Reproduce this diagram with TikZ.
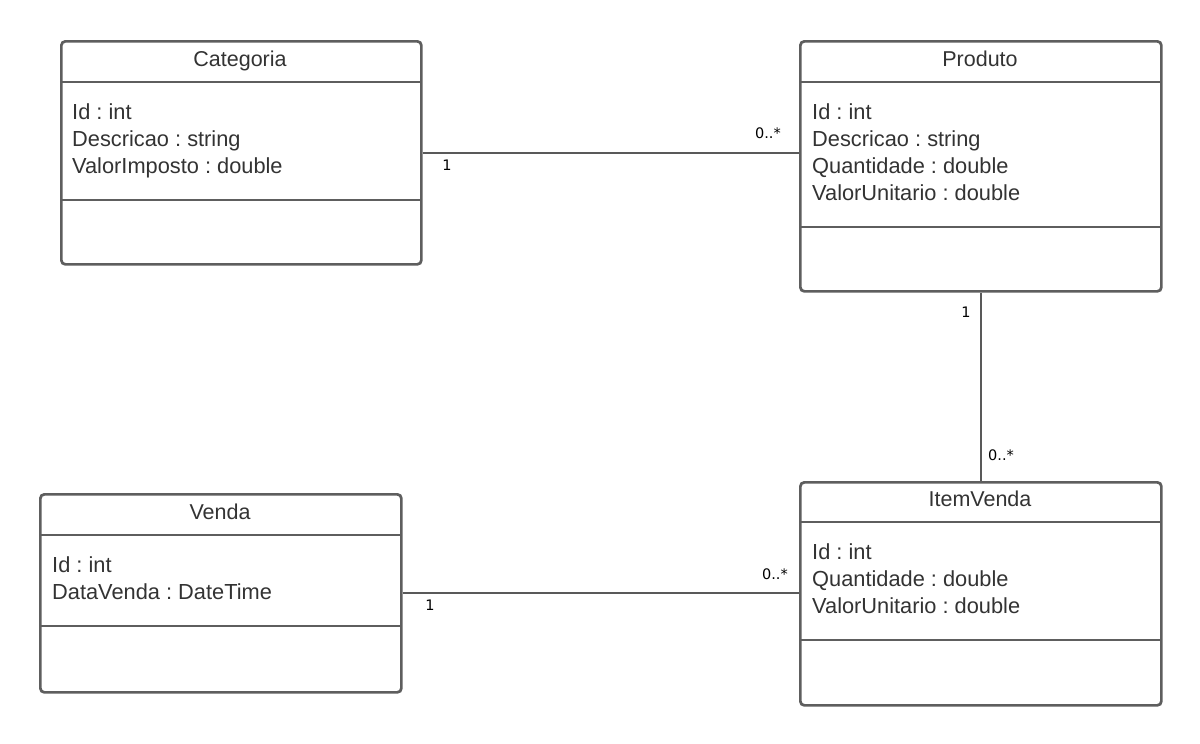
\documentclass[tikz,border=0pt]{standalone}
\usepackage{fontspec}
\setmainfont{Liberation Sans}
\newfontfamily\labfont{DejaVu Sans}
\definecolor{bordc}{HTML}{5E5E5E}
\definecolor{txtc}{HTML}{333333}
\definecolor{linec}{HTML}{595959}
\frenchspacing
\begin{document}
\begin{tikzpicture}[x=1pt,y=-1pt,
  umlbox/.style={draw=bordc, line width=2.7pt, rounded corners=4pt, fill=white, anchor=north west, inner sep=0pt},
  sepline/.style={draw=bordc, line width=2.7pt},
  title/.style={text=txtc, font=\fontsize{21.5}{26}\selectfont\frenchspacing, anchor=base, inner sep=0pt},
  attr/.style={text=txtc, font=\fontsize{21.8}{27}\selectfont\frenchspacing, anchor=base west, inner sep=0pt},
  assoc/.style={draw=linec, line width=2pt},
  mult/.style={text=black, font=\labfont\fontsize{14.5}{17}\selectfont, inner sep=0pt}]
\useasboundingbox (0,0) rectangle (1200,744);
\fill[white] (0,0) rectangle (1200,744);

% Categoria
\node[umlbox, minimum width=360pt, minimum height=223pt] (cat) at (60,40) {};
\draw[sepline] (60,82) -- (420,82);
\draw[sepline] (60,200) -- (420,200);
\node[title] (catT) at (240,66) {Categoria};
\node[attr] (catA1) at (72,119) {Id : int};
\node[attr] (catA2) at (72,146) {Descricao : string};
\node[attr] (catA3) at (72,173) {ValorImposto : double};

% Produto
\node[umlbox, minimum width=361pt, minimum height=250pt] (prod) at (799,40) {};
\draw[sepline] (799,82) -- (1160,82);
\draw[sepline] (799,227) -- (1160,227);
\node[title] (prodT) at (980,66) {Produto};
\node[attr] (prodA1) at (812,119) {Id : int};
\node[attr] (prodA2) at (812,146) {Descricao : string};
\node[attr] (prodA3) at (812,173) {Quantidade : double};
\node[attr] (prodA4) at (812,200) {ValorUnitario : double};

% Venda
\node[umlbox, minimum width=361pt, minimum height=198pt] (ven) at (39,493) {};
\draw[sepline] (39,535) -- (400,535);
\draw[sepline] (39,626) -- (400,626);
\node[title] (venT) at (220,519) {Venda};
\node[attr] (venA1) at (52,572) {Id : int};
\node[attr] (venA2) at (52,599) {DataVenda : DateTime};

% ItemVenda
\node[umlbox, minimum width=361pt, minimum height=223pt] (item) at (799,481) {};
\draw[sepline] (799,522) -- (1160,522);
\draw[sepline] (799,640) -- (1160,640);
\node[title] (itemT) at (980,506) {ItemVenda};
\node[attr] (itemA1) at (812,559) {Id : int};
\node[attr] (itemA2) at (812,586) {Quantidade : double};
\node[attr] (itemA3) at (812,613) {ValorUnitario : double};

% Associations
\draw[assoc] (cat.east) -- (cat.east -| prod.west);
\draw[assoc] (prod.south) -- (item.north);
\draw[assoc] (ven.east) -- (ven.east -| item.west);

% Multiplicities
\node[mult] (m1) at (447,165) {1};
\node[mult, anchor=east] (m2) at (781,133) {0..*};
\node[mult] (m3) at (966,312) {1};
\node[mult, anchor=west] (m4) at (988,455) {0..*};
\node[mult] (m5) at (430,605) {1};
\node[mult, anchor=east] (m6) at (788,574) {0..*};
\end{tikzpicture}
\end{document}
